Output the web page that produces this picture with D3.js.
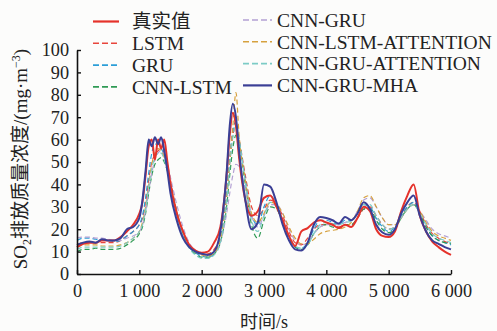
<!DOCTYPE html>
<html><head><meta charset="utf-8">
<script src="https://cdn.jsdelivr.net/npm/d3@7"></script>
<style>html,body{margin:0;padding:0;background:#fcfcfb;}svg{display:block;}</style>
</head><body><svg id="c" width="497" height="331"></svg>
<script>
const times = [0,100,200,300,400,500,600,700,800,900,1000,1050,1100,1150,1200,1250,1300,1350,1400,1450,1500,1600,1700,1800,1900,2000,2100,2200,2300,2400,2450,2500,2550,2600,2700,2800,2900,3000,3100,3200,3300,3400,3500,3600,3700,3800,3900,4000,4100,4200,4300,4400,4500,4600,4700,4800,4900,5000,5100,5200,5300,5400,5500,5600,5700,5800,5900,6000];
const trueVals = [12,13.5,14,14,15,15,15,16.5,19,22,27,32,44,57,60,51,60,56,60,50,40,27,19,13,10.5,9.5,10,14,21,44,62,72,66,52,33,26,28,34,35,30,24,17,12.5,19,20.5,23,24,23,22,20.5,22,21,25,30,28,20,17,16.5,19,28,35,40,26,19,14.5,12,10,8.5];
const lstmVals = [13,14,14,14,14,14,14,15,17,19,22,25,32,42,50,53,55,56,54,49,42,28,19,13,10,9,9,11,17,35,50,62,66,60,44,30,26,29,33,31,26,19,14,13,16,20,22,22,22,21,22,22,25,29,30,26,22,20,21,25,30,32,28,22,18,16,14.5,13.5];
const gruVals = [15,16,16,15.5,15,15,14.5,15,17,19,22,26,34,45,54,58,58,56,53,47,39,26,17,12,9.5,8,7.5,9,16,36,52,64,68,60,42,26,22,30,35,31,24,17,12,11.5,14,20,24,24,23,22,24,24,27,31,30,25,21,19,21,26,30,32,27,21,17,15,14,13];
const cnnLstmVals = [10,11,11,11.5,11,11,11,11.5,13,15,18,21,27,36,44,49,51,52,50,46,40,28,18,12,9,7.5,7.5,9,14,30,44,56,62,58,40,22,16,24,30,29,23,16,12,11,13,18,21,22,21,20.5,22,22,25,29,29,24,20,18.5,20,25,29,31,27,21,17,15,14,13.5];
const cnnGruVals = [16,16.5,16.5,16,16,15.5,15,15,16,17,19,22,28,37,45,51,54,55,53,49,43,31,21,14,10.5,9,8.5,9.5,14,27,36,44,49,48,38,26,21,26,31,31,27,20,15,13,14,18,21,22,22,22,23,24,28,33,34,30,25,22,22,25,29,31,28,24,20,18,17,16];
const cnnLstmAttVals = [12,13,13,13,12.5,12.5,12.5,13,14,16,19,23,30,40,49,54,56,55,52,47,40,28,19,13,10,8.5,8,9.5,15,34,50,66,81,62,42,27,23,27,32,31,27,21,16,13.5,13.5,15.5,18,19,19.5,20,21,23,28,34,35,30,25,22,22,25,29,31,28,23,19,17,16,15];
const cnnGruAttVals = [11,12,12,12,12,12,12,12.5,14,16,19,22,29,39,47,52,54,54,51,46,39,26,17,11.5,8.5,7,7,8.5,14,32,48,61,66,60,41,24,19,26,32,30,24,17,12.5,11.5,13,18,22,23,22.5,22,23,23.5,27,31,31,26,22,20,21,25,29,31,27,22,18,16,15,14];
const mhaVals = [13,14,14.5,14,15.5,15,15,16,20,21,25,33,46,60,57,61,58,61,55,46,36,24,16,12,10,9,8.5,10,19,45,66,76,70,55,33,20,23,40,39,32,22,15,11,10.5,14,22,25.5,25,24,22.5,25.5,24,27,32,29,22,18.5,17.5,20,27,32,35,26,19,15,13.5,12,11];
const xTicks = [0,1000,2000,3000,4000,5000,6000];
const xTickLabels = ["0","1 000","2 000","3 000","4 000","5 000","6 000"];
const yTicks = [0,10,20,30,40,50,60,70,80,90,100];
const seriesNames = ["真实值","LSTM","GRU","CNN-LSTM","CNN-GRU","CNN-LSTM-ATTENTION","CNN-GRU-ATTENTION","CNN-GRU-MHA"];

const series = [
  {name:seriesNames[1], vals:lstmVals, color:"#e8453c", dash:"5,3", w:1.2},
  {name:seriesNames[2], vals:gruVals, color:"#2b9ed8", dash:"5,3", w:1.2},
  {name:seriesNames[3], vals:cnnLstmVals, color:"#2f9a55", dash:"5,3", w:1.2},
  {name:seriesNames[4], vals:cnnGruVals, color:"#b3a0d4", dash:"5,3", w:1.2},
  {name:seriesNames[5], vals:cnnLstmAttVals, color:"#d6a13e", dash:"5,3", w:1.2},
  {name:seriesNames[6], vals:cnnGruAttVals, color:"#7ccbc6", dash:"5,3", w:1.2},
  {name:seriesNames[0], vals:trueVals, color:"#e5322b", dash:null, w:2},
  {name:seriesNames[7], vals:mhaVals, color:"#3b3f95", dash:null, w:2}
];

const svg = d3.select("#c");
const x = d3.scaleLinear().domain([0,6000]).range([77,451]);
const y = d3.scaleLinear().domain([0,100]).range([274,50]);
const serif = "'Liberation Serif','Times New Roman',serif";
const cjk = "'Liberation Serif','Noto Sans CJK SC',serif";

// fit a font size so a sample string reaches a target width
function fitSize(str, family, base, target){
  const t = svg.append("text").attr("font-family",family).attr("font-size",base).text(str);
  const w = t.node().getComputedTextLength();
  t.remove();
  const s = w>0 ? base*target/w : base;
  return Math.max(15, Math.min(23, s));
}
const tickSize = fitSize("1 000", serif, 19, 41);
const legSize = fitSize("CNN-LSTM-ATTENTION", cjk, 19, 215);

const line = d3.line().x((d,i)=>x(times[i])).y(d=>y(d)).curve(d3.curveMonotoneX);
svg.append("g").selectAll("path").data(series).join("path")
  .attr("d", d=>line(d.vals)).attr("fill","none")
  .attr("stroke", d=>d.color).attr("stroke-width", d=>d.w)
  .attr("stroke-dasharray", d=>d.dash).attr("stroke-linejoin","round");

// axes
const xAxis = d3.axisBottom(x).tickValues(xTicks).tickFormat((d,i)=>xTickLabels[i]).tickSizeInner(-4).tickSizeOuter(0).tickPadding(10);
const gx = svg.append("g").attr("transform","translate(0,274)").call(xAxis);
const yAxis = d3.axisLeft(y).tickValues(yTicks).tickSizeInner(-4).tickSizeOuter(0).tickPadding(8);
const gy = svg.append("g").attr("transform","translate(77,0)").call(yAxis);
[gx,gy].forEach(g=>{
  g.select(".domain").attr("stroke","#111").attr("stroke-width",1.6);
  g.selectAll(".tick line").attr("stroke","#111").attr("stroke-width",1.4);
  g.selectAll(".tick text").attr("font-family",serif).attr("font-size",tickSize).attr("fill","#222");
});

// axis titles
svg.append("text").attr("x",264).attr("y",328).attr("text-anchor","middle")
  .attr("font-family",cjk).attr("font-size",18).attr("fill","#222").text("时间/s");
const yl = svg.append("text").attr("transform","translate(27,159) rotate(-90)").attr("text-anchor","middle")
  .attr("font-family",cjk).attr("font-size",19).attr("fill","#222");
yl.append("tspan").text("SO");
yl.append("tspan").attr("font-size",12).attr("dy",4).text("2");
yl.append("tspan").attr("dy",-4).text("排放质量浓度/(mg·m");
yl.append("tspan").attr("font-size",12).attr("dy",-7).text("−3");
yl.append("tspan").attr("dy",7).text(")");

// legend
const legendSeries = {};
series.forEach(s=>legendSeries[s.name]=s);
const leg = svg.append("g");
seriesNames.forEach((n,i)=>{
  const s = legendSeries[n];
  const col = i<4?0:1;
  const row = i%4;
  const lx = col===0?93:243;
  const lx2 = col===0?119:272;
  const tx = col===0?132:277;
  const ly = (col===0?21.5:20) + row*21.8;
  leg.append("line").attr("x1",lx).attr("x2",lx2).attr("y1",ly).attr("y2",ly)
    .attr("stroke",s.color).attr("stroke-width",s.dash?1.6:2.2).attr("stroke-dasharray",s.dash?"6,3":null);
  leg.append("text").attr("x",tx).attr("y",ly).attr("dy","0.35em")
    .attr("font-family",cjk).attr("font-size",legSize).attr("fill","#222").text(n);
});
</script></body></html>
